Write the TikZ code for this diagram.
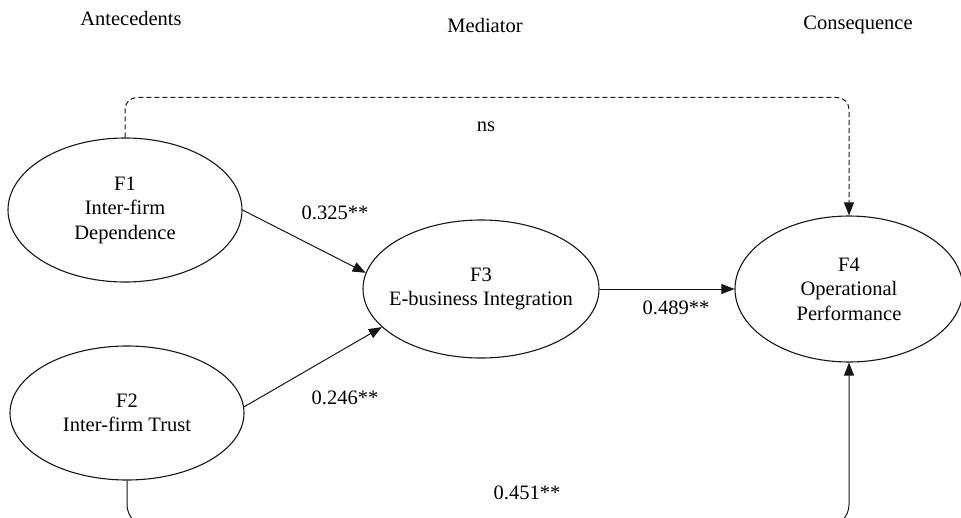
\documentclass[tikz,border=0pt]{standalone}
\usepackage{fontspec}
\setmainfont{Liberation Serif}
\usetikzlibrary{arrows.meta,positioning,shapes.geometric}
\definecolor{pathInk}{RGB}{22,22,22}
\tikzset{
  factor/.style={ellipse, draw=pathInk, line width=1.1pt, align=center, inner sep=0pt, minimum width=234pt, minimum height=144pt, font=\fontsize{20.5}{24.5}\selectfont},
  heading/.style={font=\fontsize{20.5}{24.5}\selectfont},
  coef/.style={font=\fontsize{20.5}{24.5}\selectfont},
  flow/.style={-{Triangle[length=13pt,width=10pt]}, line width=1pt, draw=pathInk},
  nsflow/.style={flow, dash pattern=on 5pt off 3pt, rounded corners=12pt},
  directflow/.style={flow, rounded corners=22pt}
}

\begin{document}
\begin{tikzpicture}[x=1pt, y=-1pt]
        \useasboundingbox (0,0) rectangle (961,517);
        \node[heading] (ante) at (131,18) {Antecedents};
        \node[heading] (medi) at (485,25) {Mediator};
        \node[heading] (cons) at (858,25) {Consequence};
        \node[factor] (f1) at (125,210) {F1\\Inter-firm\\Dependence};
        \node[factor, minimum height=134pt] (f2) at (127,413) {F2\\Inter-firm Trust};
        \node[factor, inner xsep=-9pt, minimum width=236pt, minimum height=138pt] (f3) at (481,289) {F3\\E-business Integration};
        \node[factor, minimum width=228pt, minimum height=146pt] (f4) at (849,289) {F4\\Operational\\Performance};
        \draw[flow] (f1.east) -- (f3.172);
        \draw[flow] (f2.3) -- (f3.201);
        \draw[flow] (f3.east) -- (f4.west);
        \draw[nsflow] (f1.north) -- ++(0,-40) -| (f4.north);
        \draw[directflow] (f2.south) -- ++(0,46) -| (f4.south);
        \node[coef] (c13) at (335,213) {0.325**};
        \node[coef] (c23) at (345,398) {0.246**};
        \node[coef] (c34) at (676,308) {0.489**};
        \node[coef] (c14) at (486,127) {ns};
        \node[coef] (c24) at (527,493) {0.451**};
      \end{tikzpicture}
\end{document}
